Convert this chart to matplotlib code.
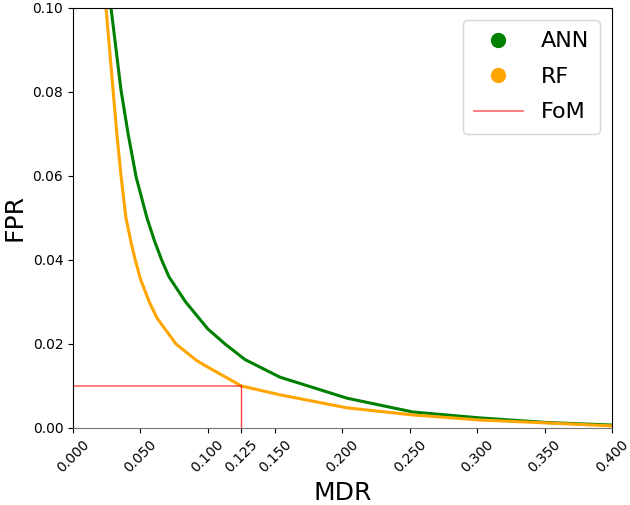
import matplotlib
matplotlib.use("Agg")
import matplotlib.pyplot as plt
from matplotlib.lines import Line2D
from matplotlib.ticker import FormatStrFormatter

ann_mdr = [0.027, 0.0282, 0.0356, 0.0408, 0.0468, 0.0549, 0.0605, 0.0658, 0.0712,
           0.0836, 0.1000, 0.1128, 0.1276, 0.1536, 0.2033, 0.2523, 0.302, 0.3518, 0.4]
ann_fpr = [0.104, 0.100, 0.0805, 0.0702, 0.0598, 0.0500, 0.0445, 0.0400, 0.0360,
           0.0300, 0.0236, 0.0200, 0.0163, 0.0121, 0.0071, 0.0038, 0.0024, 0.0013, 0.0007]

rf_mdr = [0.0235, 0.0245, 0.0297, 0.0325, 0.0357, 0.0393, 0.0432, 0.0462, 0.0500,
          0.0566, 0.0623, 0.0764, 0.092, 0.100, 0.125, 0.1536, 0.2033, 0.2523, 0.302,
          0.352, 0.4]
rf_fpr = [0.104, 0.100, 0.0805, 0.0702, 0.0598, 0.0500, 0.0440, 0.0400, 0.0355,
          0.0300, 0.0262, 0.0200, 0.0160, 0.0145, 0.0100, 0.0079, 0.0048, 0.0031, 0.0019,
          0.0012, 0.0005]

fom_mdr = 0.125
fom_fpr = 0.01

xticks = [0.0, 0.05, 0.1, 0.125, 0.15, 0.2, 0.25, 0.3, 0.35, 0.4]
yticks = [0.0, 0.02, 0.04, 0.06, 0.08, 0.10]

fig = plt.figure(figsize=(6.3, 5.05), dpi=100)
ax = fig.add_axes([0.1159, 0.1525, 0.8555, 0.8317])

ax.plot(ann_mdr, ann_fpr, color="green", lw=2.2, solid_capstyle="round",
        solid_joinstyle="round")
ax.plot(rf_mdr, rf_fpr, color="orange", lw=2.2, solid_capstyle="round",
        solid_joinstyle="round")
ax.plot([0, fom_mdr], [fom_fpr, fom_fpr], color="red", alpha=0.55, lw=1.3)
ax.plot([fom_mdr, fom_mdr], [0, fom_fpr], color="red", alpha=0.75, lw=1.0)

ax.set_xlim(0, 0.4)
ax.set_ylim(0, 0.1)
ax.set_xticks(xticks)
ax.set_yticks(yticks)
ax.xaxis.set_major_formatter(FormatStrFormatter("%.3f"))
ax.yaxis.set_major_formatter(FormatStrFormatter("%.2f"))
plt.setp(ax.get_xticklabels(), rotation=45, fontsize=10)
plt.setp(ax.get_yticklabels(), fontsize=10)
ax.spines["bottom"].set_color("0.45")
ax.set_xlabel("MDR", fontsize=18)
ax.set_ylabel("FPR", fontsize=18)

handles = [
    Line2D([], [], ls="", marker="o", color="green", markersize=10),
    Line2D([], [], ls="", marker="o", color="orange", markersize=10),
    Line2D([], [], color="red", alpha=0.55, lw=1.3),
]
ax.legend(handles, ["ANN", "RF", "FoM"], loc="upper right", fontsize=16,
          borderaxespad=0.55, borderpad=0.5, labelspacing=0.7,
          handlelength=2.2)

fig.savefig("out.png", dpi=100)
